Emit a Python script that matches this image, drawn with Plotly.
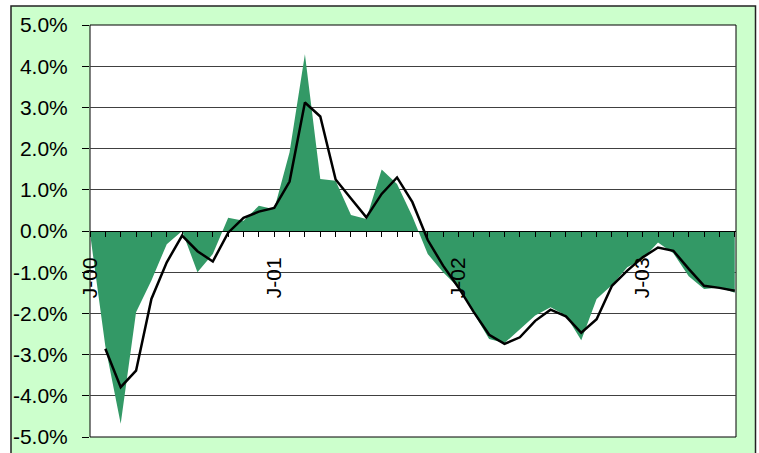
import plotly.graph_objects as go

# Month index (Jan-2000 = 0 ... Jul-2003 = 42)
months = list(range(43))
tick_pos = [0, 12, 24, 36]
tick_labels = ["J-00", "J-01", "J-02", "J-03"]

area_vals = [-0.05, -2.8, -4.68, -1.97, -1.2, -0.32, 0.0, -1.0, -0.56, 0.32,
             0.25, 0.61, 0.53, 1.91, 4.29, 1.26, 1.22, 0.39, 0.29, 1.49,
             1.14, 0.35, -0.56, -1.0, -1.37, -2.01, -2.62, -2.72, -2.38, -2.05,
             -1.85, -2.05, -2.65, -1.65, -1.31, -0.88, -0.68, -0.28, -0.54, -1.1,
             -1.41, -1.37, -1.5]

line_vals = [None, -2.86, -3.79, -3.39, -1.65, -0.76, -0.11, -0.49, -0.74, -0.04,
             0.32, 0.47, 0.56, 1.20, 3.12, 2.78, 1.25, 0.79, 0.33, 0.90,
             1.30, 0.70, -0.22, -0.84, -1.37, -1.97, -2.52, -2.74, -2.58, -2.18,
             -1.91, -2.07, -2.47, -2.14, -1.33, -0.96, -0.64, -0.40, -0.48, -0.92,
             -1.33, -1.38, -1.45]

y_ticks = [-5, -4, -3, -2, -1, 0, 1, 2, 3, 4, 5]
y_tick_labels = ["-5.0%", "-4.0%", "-3.0%", "-2.0%", "-1.0%", "0.0%",
                 "1.0%", "2.0%", "3.0%", "4.0%", "5.0%"]

W, H = 759, 453
ML, MR, MT, MB = 90, 23, 25, 16
PW, PH = W - ML - MR, H - MT - MB

def px_x(p):
    return (p - ML) / PW

def px_y(p):
    return (H - MB - p) / PH

fig = go.Figure()
fig.add_trace(go.Scatter(x=months, y=area_vals, mode="lines", fill="tozeroy",
                         fillcolor="#339966", line=dict(color="#339966", width=0),
                         showlegend=False, hoverinfo="skip"))
fig.add_trace(go.Scatter(x=months, y=line_vals, mode="lines",
                         line=dict(color="black", width=2.5),
                         showlegend=False))

fig.update_layout(
    width=W, height=H, autosize=False,
    margin=dict(l=ML, r=MR, t=MT, b=MB, pad=0, autoexpand=False),
    paper_bgcolor="white", plot_bgcolor="white",
    font=dict(family="Liberation Sans, Arial, sans-serif", size=21, color="black"),
    xaxis=dict(range=[0, 42.08], anchor="free", position=0.5, automargin=False,
               showgrid=False, zeroline=False,
               showline=True, linecolor="black", linewidth=1,
               tickmode="array", tickvals=tick_pos, ticktext=tick_labels,
               ticks="outside", ticklen=5, tickcolor="black", tickwidth=1,
               tickangle=-90, ticklabelstandoff=12,
               tickfont=dict(size=21),
               minor=dict(dtick=1, tick0=0, ticks="outside", ticklen=5,
                          tickcolor="black", tickwidth=1, showgrid=False)),
    yaxis=dict(range=[-5, 5], tickmode="array", tickvals=y_ticks, automargin=False,
               ticktext=y_tick_labels, showgrid=True, gridcolor="#404040",
               gridwidth=1, zeroline=False, showline=False,
               ticks="outside", ticklen=7, tickcolor="black",
               ticklabelstandoff=10, tickfont=dict(size=21)),
    shapes=[
        dict(type="rect", xref="paper", yref="paper", layer="below",
             x0=px_x(11), x1=px_x(755.5), y0=px_y(480), y1=px_y(6),
             fillcolor="#CCFFCC", line=dict(color="#222222", width=1.5)),
        dict(type="rect", xref="paper", yref="paper", layer="below",
             x0=0, x1=1, y0=0, y1=1,
             fillcolor="white", line=dict(color="black", width=1)),
    ],
)

fig.write_html("out.html")
